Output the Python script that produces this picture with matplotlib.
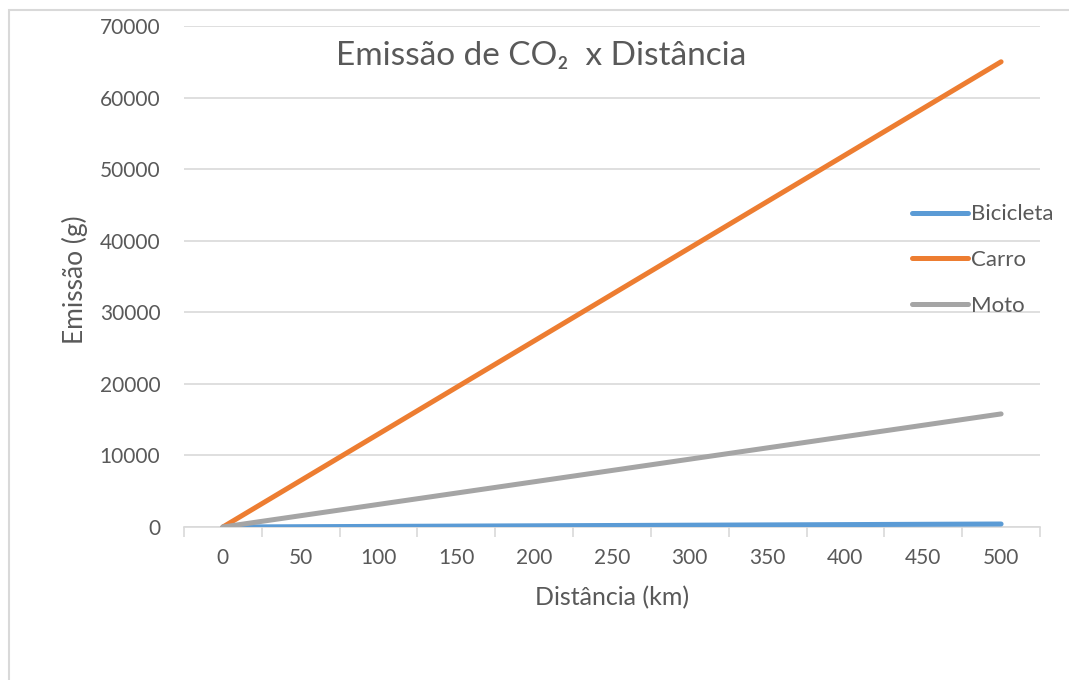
import matplotlib
matplotlib.use("Agg")
import matplotlib.pyplot as plt
from matplotlib.patches import Rectangle

distancias = [0, 50, 100, 150, 200, 250, 300, 350, 400, 450, 500]
bicicleta = [0, 42, 84, 126, 168, 210, 252, 294, 336, 378, 420]
carro = [0, 6500, 13000, 19500, 26000, 32500, 39000, 45500, 52000, 58500, 65000]
moto = [0, 1580, 3160, 4740, 6320, 7900, 9480, 11060, 12640, 14220, 15800]
y_ticks = [0, 10000, 20000, 30000, 40000, 50000, 60000, 70000]

W, H = 1069, 680
plt.rcParams['font.family'] = ['Lato', 'DejaVu Sans']
TXT = '#595959'
GRID = '#D9D9D9'

fig = plt.figure(figsize=(W / 100, H / 100), dpi=100)
fig.patch.set_facecolor('white')
fig.add_artist(Rectangle((8.5 / W, -0.1), 1.2, 1 - 10.5 / H + 0.1, transform=fig.transFigure,
                         fill=False, edgecolor=GRID, lw=1.5))

ax = fig.add_axes([184 / W, 1 - 527 / H, (1040 - 184) / W, (527 - 26) / H])
x = list(range(len(distancias)))
ax.plot(x, bicicleta, color='#5B9BD5', lw=3.6, solid_capstyle='round', label='Bicicleta', zorder=3)
ax.plot(x, carro, color='#ED7D31', lw=3.6, solid_capstyle='round', label='Carro', zorder=3)
ax.plot(x, moto, color='#A5A5A5', lw=3.6, solid_capstyle='round', label='Moto', zorder=3)

ax.set_xlim(-0.5, len(distancias) - 0.5)
ax.set_ylim(0, 70000)
ax.set_yticks(y_ticks)
ax.set_yticklabels([str(v) for v in y_ticks])
ax.set_xticks(x)
ax.set_xticklabels([str(d) for d in distancias])
ax.set_xticks([i - 0.5 for i in range(len(distancias) + 1)], minor=True)
ax.tick_params(axis='x', which='major', length=0, pad=15, labelsize=15, labelcolor=TXT)
ax.tick_params(axis='x', which='minor', length=7, width=1.2, color=GRID, direction='out')
ax.tick_params(axis='y', length=0, pad=17, labelsize=15, labelcolor=TXT)

for s in ['top', 'right', 'left']:
    ax.spines[s].set_visible(False)
ax.spines['bottom'].set_color(GRID)
ax.spines['bottom'].set_linewidth(1.2)
ax.yaxis.grid(True, color=GRID, lw=1.2)
ax.set_axisbelow(True)

fig.text(541 / W, 1 - 56 / H, 'Emissão de CO\u2082  x Distância', ha='center', va='center',
         fontsize=24, color=TXT)
fig.text(75 / W, 1 - 280 / H, 'Emissão (g)', rotation=90, ha='center', va='center',
         fontsize=19, color=TXT)
fig.text(612 / W, 1 - 598 / H, 'Distância (km)', ha='center', va='center',
         fontsize=18, color=TXT)

leg = fig.legend(loc='center left', bbox_to_anchor=(912 / W, 1 - 260 / H), frameon=False,
                 fontsize=16, handlelength=2.5, handletextpad=0.15, labelspacing=1.15,
                 borderpad=0, borderaxespad=0)
for t in leg.get_texts():
    t.set_color(TXT)

fig.savefig('out.png', dpi=100, facecolor='white')
